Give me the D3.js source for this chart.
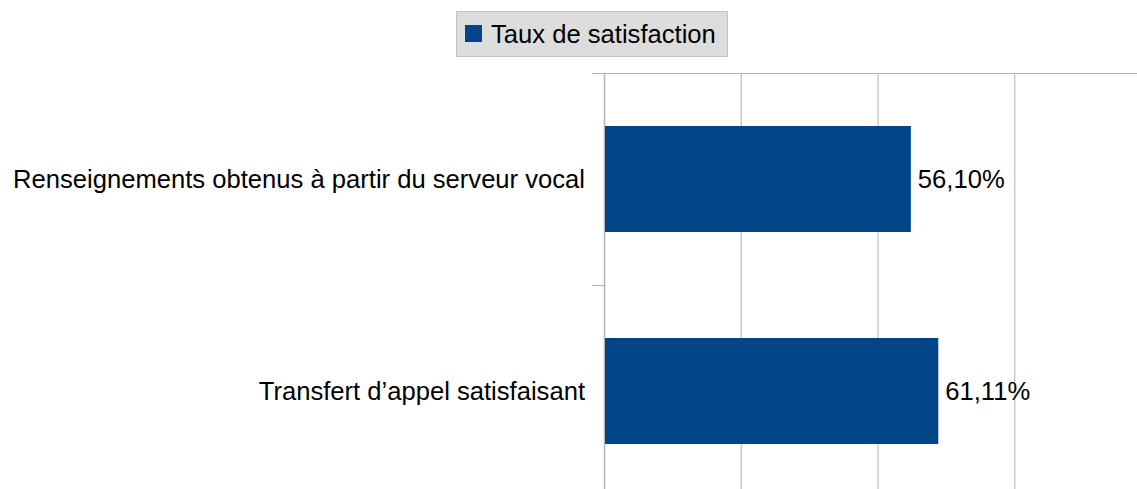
<!DOCTYPE html>
<html>
<head>
<meta charset="utf-8">
<script src="https://cdn.jsdelivr.net/npm/d3@7"></script>
<style>
  html, body { margin: 0; padding: 0; background: #fff; }
  svg { display: block; font-family: "Liberation Sans", Arial, sans-serif; }
</style>
</head>
<body>
<script>
const categories = ["Renseignements obtenus à partir du serveur vocal", "Transfert d\u2019appel satisfaisant"];
const values = [0.5610, 0.6111];
const valueLabels = ["56,10%", "61,11%"];
const gridTicks = [0, 0.25, 0.5, 0.75, 1];
const seriesName = "Taux de satisfaction";

const W = 1137, H = 489;
const fs = 25.6;
const svg = d3.select('body').append('svg').attr('width', W).attr('height', H);

const x = d3.scaleLinear().domain([0, 1]).range([604, 1151]);
const y = d3.scaleBand().domain(categories).range([73, 497]).paddingInner(0.5).paddingOuter(0.25);

// gridlines
svg.append('g').selectAll('line').data(gridTicks).enter().append('line')
    .attr('x1', d => x(d) + 0.5).attr('x2', d => x(d) + 0.5)
    .attr('y1', 73).attr('y2', H)
    .attr('stroke', '#b3b3b3').attr('stroke-width', 1);

// top line
svg.append('line').attr('x1', 592).attr('x2', W).attr('y1', 73.5).attr('y2', 73.5)
    .attr('stroke', '#b3b3b3');

// category separators (ticks)
const step = y.step();
const seps = categories.map(c => y(c) - step * y.paddingInner() / 2).concat([y(categories[categories.length - 1]) + y.bandwidth() + step * y.paddingInner() / 2]);
svg.append('g').selectAll('line').data(seps).enter().append('line')
    .attr('x1', 592).attr('x2', 604)
    .attr('y1', d => Math.round(d) + 0.5).attr('y2', d => Math.round(d) + 0.5)
    .attr('stroke', '#b3b3b3');

// axis line
svg.append('line').attr('x1', 604.5).attr('x2', 604.5).attr('y1', 73).attr('y2', H)
    .attr('stroke', '#b3b3b3').attr('stroke-width', 1.5);

// bars
svg.append('g').selectAll('rect').data(values).enter().append('rect')
    .attr('x', x(0) + 1)
    .attr('y', (d, i) => y(categories[i]))
    .attr('width', d => x(d) - x(0) - 1)
    .attr('height', y.bandwidth())
    .attr('fill', '#004586');

// value labels
svg.append('g').selectAll('text').data(values).enter().append('text')
    .attr('x', d => x(d) + 7)
    .attr('y', (d, i) => y(categories[i]) + y.bandwidth() / 2)
    .attr('dy', '0.35em')
    .attr('font-size', fs)
    .attr('fill', '#000')
    .text((d, i) => valueLabels[i]);

// category labels
svg.append('g').selectAll('text').data(categories).enter().append('text')
    .attr('x', 585)
    .attr('y', d => y(d) + y.bandwidth() / 2)
    .attr('dy', '0.35em')
    .attr('text-anchor', 'end')
    .attr('font-size', fs)
    .attr('fill', '#000')
    .text(d => d);

// legend
const lg = svg.append('g');
lg.append('rect').attr('x', 456.5).attr('y', 11.5).attr('width', 271).attr('height', 45)
    .attr('fill', '#dddddd').attr('stroke', '#c4c4c4');
lg.append('rect').attr('x', 465).attr('y', 25).attr('width', 17).attr('height', 17).attr('fill', '#004586');
lg.append('text').attr('x', 491).attr('y', 34).attr('dy', '0.35em')
    .attr('font-size', fs).attr('fill', '#000').text(seriesName);
</script>
</body>
</html>
